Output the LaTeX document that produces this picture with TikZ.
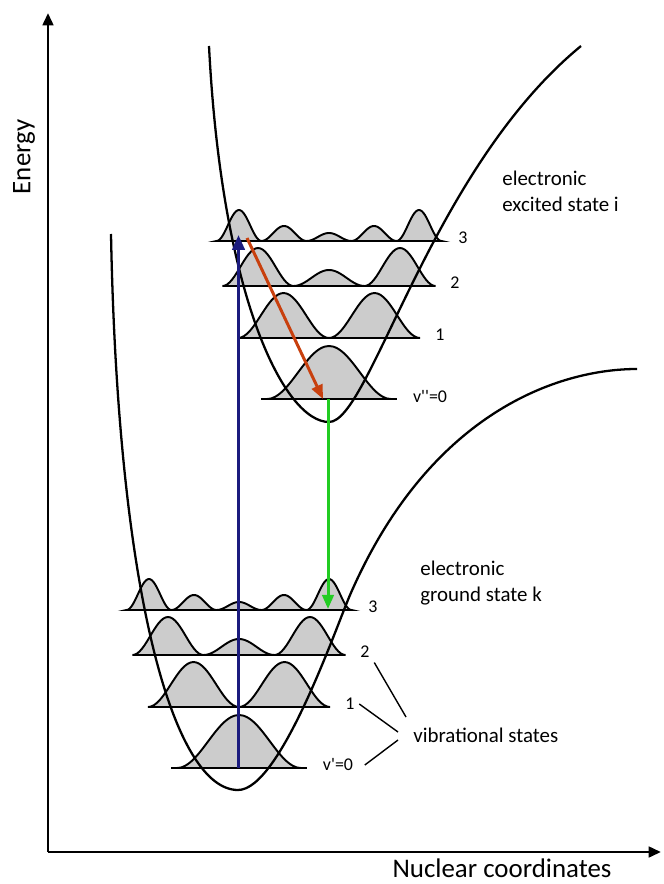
\documentclass[tikz,border=0pt]{standalone}
\usepackage{fontspec}
\setmainfont{Carlito}
\usetikzlibrary{arrows.meta}
\definecolor{absorbblue}{HTML}{1B1B7E}
\definecolor{relaxred}{HTML}{C8400E}
\definecolor{emitgreen}{HTML}{22CC22}
\newcommand{\hump}[4]{\filldraw[hump] plot[domain=-1:1, samples=31, smooth] ({#1+#3*\x}, {#2-#4*(1+cos(180*\x))/2}) -- cycle;}
\newcommand{\vibstack}{%
  \hump{239}{768}{62}{53}
  \hump{193.5}{707}{45.5}{45}
  \hump{284.5}{707}{45.5}{45}
  \hump{168}{655}{35.5}{38}
  \hump{239}{655}{35.5}{16}
  \hump{310}{655}{35.5}{38}
  \foreach \c/\h in {149/31,194/15,239/8,284/15,329/31} {\hump{\c}{610}{22.5}{\h}}
  \draw[vlevel] (171,768) -- (307,768);
  \draw[vlevel] (148,707) -- (328,707);
  \draw[vlevel] (133,655) -- (343,655);
  \draw[vlevel] (126,610) -- (352,610);
}
\tikzset{
  pes/.style={line width=1.3pt},
  vlevel/.style={line width=1.3pt},
  hump/.style={draw, fill=gray!40, line width=1.1pt},
  axisline/.style={line width=1.6pt, -{Triangle[length=7pt, width=6pt]}},
  absorb/.style={line width=1.9pt, absorbblue, -{Triangle[length=8.5pt, width=7pt]}},
  relax/.style={line width=1.7pt, relaxred, -{Triangle[length=8pt, width=6.5pt]}},
  emit/.style={line width=1.7pt, emitgreen, -{Triangle[length=8pt, width=6.5pt]}},
  lvlabel/.style={font=\fontsize{10.2}{12}\selectfont, inner sep=2.5pt},
  statelabel/.style={align=left, anchor=west, inner sep=0pt, font=\fontsize{11.9}{14.7}\selectfont},
  axislabel/.style={font=\fontsize{15.3}{18}\selectfont},
  leader/.style={line width=0.8pt}
}
\begin{document}
\begin{tikzpicture}[x=0.02cm, y=-0.02cm]
  \useasboundingbox (0,0) rectangle (663,884);

  \coordinate (origin) at (48,852);
  \coordinate (etop) at (48,13);
  \coordinate (xend) at (661,852);
  \draw[axisline] (origin) -- (etop);
  \draw[axisline] (origin) -- (xend);
  \node[axislabel, rotate=90] (energy) at (24,157) {Energy};
  \node[axislabel] (nuclear) at (502,868) {Nuclear coordinates};

  \vibstack
  \begin{scope}[shift={(90,-369)}]
    \vibstack
  \end{scope}

  % ground state k
  \draw[pes] (111,234) .. controls (118,600) and (175,790) .. (238,790)
    .. controls (280,790) and (335,630) .. (350,595)
    .. controls (430,411) and (560,369) .. (637,369);
  % excited state i
  \draw[pes] (209,46) .. controls (222,300) and (285,422) .. (329,422)
    .. controls (370,422) and (430,170) .. (581,46);

  \coordinate (absfrom) at (238.5,768);
  \coordinate (absto) at (238.5,235);
  \coordinate (relfrom) at (247,238);
  \coordinate (relto) at (323,399);
  \coordinate (emfrom) at (328,399);
  \coordinate (emto) at (328,609);
  \draw[absorb] (absfrom) -- (absto);
  \draw[relax] (relfrom) -- (relto);
  \draw[emit] (emfrom) -- (emto);

  \node[lvlabel] (g3) at (373,607) {3};
  \node[lvlabel] (g2) at (365,652) {2};
  \node[lvlabel] (g1) at (350,704) {1};
  \node[lvlabel] (g0) at (338,765) {v\textquotesingle=0};
  \node[lvlabel] (e3) at (463,238) {3};
  \node[lvlabel] (e2) at (455,283) {2};
  \node[lvlabel] (e1) at (440,335) {1};
  \node[lvlabel] (e0) at (430,397) {v\textquotesingle\textquotesingle=0};

  \node[statelabel] (excited) at (502,191) {electronic\\excited state i};
  \node[statelabel] (ground) at (420,583) {electronic\\ground state k};
  \node[statelabel] (vib) at (413,735) {vibrational states};

  \coordinate (vibtop) at (406,717);
  \coordinate (vibmid) at (398,732);
  \coordinate (viblow) at (398,740);
  \draw[leader] (g2.south east) -- (vibtop);
  \draw[leader] (g1.east) -- (vibmid);
  \draw[leader] ([xshift=4pt]g0.east) -- (viblow);
\end{tikzpicture}
\end{document}
